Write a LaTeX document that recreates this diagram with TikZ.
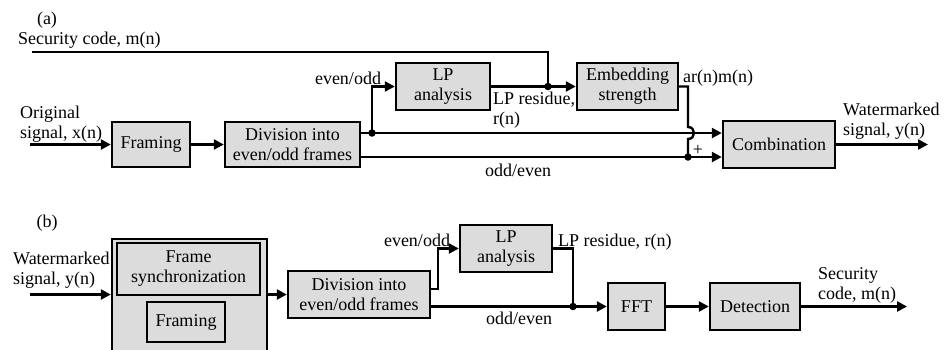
\documentclass[tikz,border=0pt]{standalone}
\usepackage{fontspec}
\setmainfont{Liberation Serif}
\usetikzlibrary{arrows.meta}
\definecolor{boxgray}{HTML}{DCDCDC}
\tikzset{
  blk/.style={draw, fill=boxgray, line width=2.4pt, inner sep=0pt, align=center},
  wire/.style={line width=2.4pt},
  arr/.style={wire, -{Triangle[length=10pt,width=10pt]}},
  lbl/.style={inner sep=0pt, align=left},
  dotnode/.style={circle, fill=black, inner sep=0pt, minimum size=7.5pt},
}
\begin{document}
\begin{tikzpicture}[x=1pt, y=-1pt, font=\fontsize{18}{20}\selectfont]
\useasboundingbox (0,0) rectangle (945,349);
\clip (0,0) rectangle (945,349);

% ---------------- (a) embedding ----------------
\node[lbl] (tagA) at (47,20) {(a)};
\node[lbl, anchor=west] (secIn) at (18,40) {Security code, m(n)};
\node[lbl, anchor=west] (origIn) at (20,124) {Original\\signal, x(n)};

\node[blk, minimum width=78pt, minimum height=45pt] (framA) at (151,144.5) {Framing};
\node[blk, minimum width=135pt, minimum height=45pt] (divA) at (292.5,144.5) {Division into\\even/odd frames};
\node[blk, minimum width=94pt, minimum height=47pt] (lpA) at (443,86.5) {LP\\analysis};
\node[blk, minimum width=101pt, minimum height=47pt] (embA) at (627.5,86.5) {Embedding\\strength};
\node[blk, minimum width=112pt, minimum height=47pt] (combA) at (779,144.5) {Combination};

\coordinate (inA) at (30,144.5);
\coordinate (secA) at (32,52);
\coordinate (jA1) at (372,133);
\coordinate (jA2) at (548,86.5);
\coordinate (jA3) at (688,157);
\coordinate (outA) at (928,144.5);

\draw[arr] (inA) -- (framA);
\draw[arr] (framA) -- (divA);
\draw[arr] (divA.east |- jA1) -- (combA.west |- jA1);
\draw[arr] (jA1) -- (jA1 |- lpA) -- (lpA.west);
\draw[arr] (lpA.east) -- (embA.west);
\draw[wire] (secA) -- (secA -| jA2) -- (jA2);
\draw[wire] (embA.east) -- (embA.east -| jA3) -- (688,127)
  .. controls (696,127) and (696,139) .. (688,139) -- (jA3);
\draw[arr] (divA.east |- jA3) -- (combA.west |- jA3);
\draw[arr] (combA.east) -- (outA);

\node[dotnode] at (jA1) {};
\node[dotnode] at (jA2) {};
\node[dotnode] at (jA3) {};

\node[lbl] (eoA) at (348,78) {even/odd};
\node[lbl, anchor=north west] (resA) at (493,92) {LP residue,\\r(n)};
\node[lbl, anchor=west] (amA) at (683,78) {ar(n)m(n)};
\node[lbl] (plusA) at (698,150) {+};
\node[lbl] (oeA) at (518,170) {odd/even};
\node[lbl, anchor=west] (wmA) at (843,121) {Watermarked\\signal, y(n)};

% ---------------- (b) detection ----------------
\node[lbl] (tagB) at (47,223) {(b)};
\node[lbl, anchor=west] (wmIn) at (13,270.5) {Watermarked\\signal, y(n)};

\node[blk, minimum width=155pt, minimum height=125pt] (outerB) at (189.5,301.5) {};
\node[blk, minimum width=143pt, minimum height=52pt] (syncB) at (188.5,269) {Frame\\synchronization};
\node[blk, minimum width=78pt, minimum height=40pt] (framB) at (186,322) {Framing};
\node[blk, minimum width=142pt, minimum height=47pt] (divB) at (359,294.5) {Division into\\even/odd frames};
\node[blk, minimum width=92pt, minimum height=47pt] (lpB) at (506,248.5) {LP\\analysis};
\node[blk, minimum width=57pt, minimum height=47pt] (fftB) at (636.5,306.5) {FFT};
\node[blk, minimum width=90pt, minimum height=47pt] (detB) at (755,306.5) {Detection};

\coordinate (inB) at (30,294.5);
\coordinate (jB1) at (438,289);
\coordinate (jB2) at (573,306.5);
\coordinate (outB) at (907,306.5);

\draw[arr] (inB) -- (outerB.west |- inB);
\draw[arr] (outerB.east |- divB) -- (divB.west);
\draw[arr] (divB.east |- jB1) -- (jB1) -- (jB1 |- lpB) -- (lpB.west);
\draw[wire] (lpB.east) -- (lpB.east -| jB2) -- (jB2);
\draw[arr] (divB.east |- jB2) -- (fftB.west);
\draw[arr] (fftB) -- (detB);
\draw[arr] (detB.east) -- (outB);

\node[dotnode] at (jB2) {};

\node[lbl] (eoB) at (417,240) {even/odd};
\node[lbl, anchor=west] (resB) at (558,242) {LP residue, r(n)};
\node[lbl] (oeB) at (519,318) {odd/even};
\node[lbl, anchor=west] (scOut) at (818,285) {Security\\code, m(n)};
\end{tikzpicture}
\end{document}
